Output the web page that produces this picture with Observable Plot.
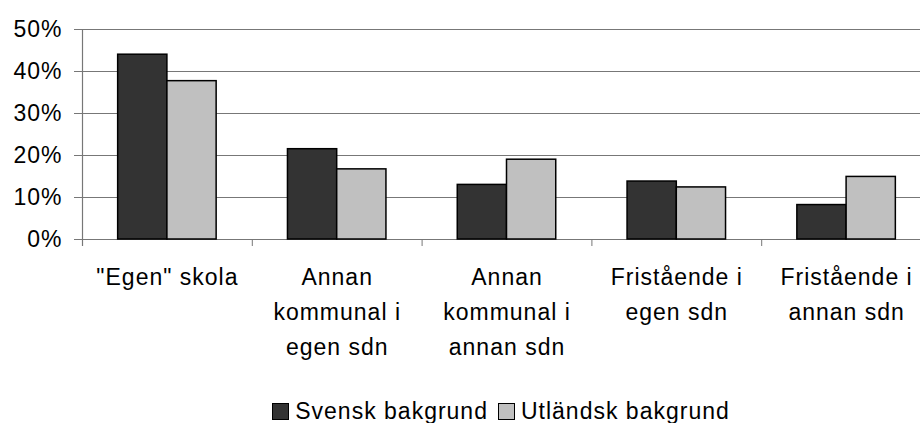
<!DOCTYPE html>
<html>
<head>
<meta charset="utf-8">
<script src="https://cdn.jsdelivr.net/npm/d3@7"></script>
<script src="https://cdn.jsdelivr.net/npm/@observablehq/plot@0.6"></script>
<style>
  html, body { margin: 0; padding: 0; background: #fff; overflow: hidden; }
  #chart { width: 920px; }
  .legend { display: flex; align-items: center; justify-content: center; box-sizing: border-box;
    height: 35px; padding-top: 12px; padding-left: 92px; width: 920px; line-height: 23px;
    font-family: "Liberation Sans", Arial, sans-serif; font-size: 23px; letter-spacing: 1px; color: #000; }
  .legend .item { display: flex; align-items: center; margin-right: 10px; }
  .legend .sw { width: 15px; height: 15px; border: 1px solid #000; margin-right: 6px; }
</style>
</head>
<body>
<div id="chart"></div>
<script>
const categories = [
  "\"Egen\" skola",
  "Annan\nkommunal i\negen sdn",
  "Annan\nkommunal i\nannan sdn",
  "Fristående i\negen sdn",
  "Fristående i\nannan sdn"
];
const seriesNames = ["Svensk bakgrund", "Utländsk bakgrund"];
const svensk = [0.44, 0.215, 0.13, 0.138, 0.082];
const utlandsk = [0.377, 0.167, 0.19, 0.124, 0.149];
const yTicks = [0, 0.1, 0.2, 0.3, 0.4, 0.5];
const colors = ["#333333", "#c0c0c0"];

const barShare = 0.29; // width of one bar relative to a category slot
const rows = [];
categories.forEach((c, i) => {
  [svensk, utlandsk].forEach((vals, k) => {
    const center = i + 0.5;
    rows.push({
      category: c,
      series: seriesNames[k],
      value: vals[i],
      x1: k === 0 ? center - barShare : center,
      x2: k === 0 ? center : center + barShare
    });
  });
});

const plot = Plot.plot({
  width: 920,
  height: 388,
  marginLeft: 82,
  marginRight: 0,
  marginTop: 29,
  marginBottom: 149,
  style: { fontFamily: "'Liberation Sans', Arial, sans-serif", fontSize: "23px", letterSpacing: "1px", color: "#000", background: "#fff" },
  x: { domain: [0, categories.length], range: [82, 931] },
  y: { domain: [0, 0.5] },
  color: { domain: seriesNames, range: colors },
  marks: [
    Plot.gridY(yTicks, { stroke: "#777777", strokeOpacity: 1, strokeWidth: 1.2 }),
    Plot.axisY(yTicks, { tickFormat: d3.format(".0%"), tickSize: 8, tickPadding: 12, fontSize: 23, stroke: "#777777", label: null }),
    Plot.ruleX([0], { stroke: "#777777", strokeWidth: 1.2, insetBottom: -7 }),
    Plot.axisX(d3.range(categories.length + 1), { tickSize: 7, tickFormat: () => "", stroke: "#777777", label: null }),
    Plot.rectY(rows, { x1: "x1", x2: "x2", y1: 0, y2: "value", fill: "series", stroke: "#000", strokeWidth: 1.5 }),
    Plot.text(categories, { x: (d, i) => i + 0.5, y: 0, text: d => d, dy: 20, lineAnchor: "top", lineHeight: 1.54, fontSize: 23, fill: "#000" })
  ]
});
document.getElementById("chart").appendChild(plot);

const legend = document.createElement("div");
legend.className = "legend";
seriesNames.forEach((s, k) => {
  const item = document.createElement("div");
  item.className = "item";
  const sw = document.createElement("span");
  sw.className = "sw";
  sw.style.background = colors[k];
  const label = document.createElement("span");
  label.textContent = s;
  item.appendChild(sw);
  item.appendChild(label);
  legend.appendChild(item);
});
document.getElementById("chart").appendChild(legend);
</script>
</body>
</html>
